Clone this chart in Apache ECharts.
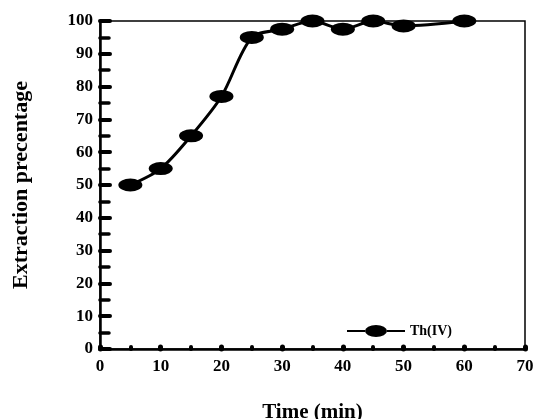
<!DOCTYPE html>
<html>
<head>
<meta charset="utf-8">
<script src="https://cdn.jsdelivr.net/npm/echarts@6/dist/echarts.min.js"></script>
<style>
  html, body { margin: 0; padding: 0; background: #fff; }
  #chart { width: 536px; height: 419px; }
</style>
</head>
<body>
<div id="chart"></div>
<script>
var times = [5, 10, 15, 20, 25, 30, 35, 40, 45, 50, 60];
var extraction = [50, 55, 65, 77, 95, 97.5, 100, 97.5, 100, 98.5, 100];
var seriesName = 'Th(IV)';

var chartDom = document.getElementById('chart');
var myChart = echarts.init(chartDom);
var font = 'Liberation Serif';
// legend icon: line with an elliptic marker in the middle
var legendIcon = 'path://M0,5 L18,5 L18,7 L0,7 Z M40,5 L58,5 L58,7 L40,7 Z ' +
  'M18,6 A11,6 0 1,0 40,6 A11,6 0 1,0 18,6 Z';
var option = {
  animation: false,
  grid: {
    left: 100, right: 11, top: 21, bottom: 70,
    outerBoundsMode: 'none',
    show: true, borderColor: '#000', borderWidth: 1.5
  },
  legend: {
    data: [{ name: seriesName, icon: legendIcon }],
    left: 342, top: 319,
    itemWidth: 58, itemHeight: 12, itemGap: 6,
    textStyle: { fontFamily: font, fontWeight: 'bold', fontSize: 14, color: '#000' }
  },
  xAxis: {
    type: 'value', min: 0, max: 70, interval: 10,
    name: 'Time (min)', nameLocation: 'middle', nameGap: 53,
    nameTextStyle: { fontFamily: font, fontWeight: 'bold', fontSize: 21, color: '#000' },
    axisLine: { lineStyle: { color: '#000', width: 2.5 } },
    axisTick: { inside: true, length: 2, lineStyle: { color: '#000', width: 5, cap: 'round' } },
    minorTick: { show: true, splitNumber: 2, length: 2, lineStyle: { color: '#000', width: 4, cap: 'round' } },
    axisLabel: { fontFamily: font, fontWeight: 'bold', fontSize: 17, color: '#000', margin: 9 },
    splitLine: { show: false }
  },
  yAxis: {
    type: 'value', min: 0, max: 100, interval: 10,
    name: 'Extraction precentage', nameLocation: 'middle', nameGap: 68,
    nameTextStyle: { fontFamily: font, fontWeight: 'bold', fontSize: 22, color: '#000' },
    axisLine: { lineStyle: { color: '#000', width: 2.5 } },
    axisTick: { inside: true, length: 10, lineStyle: { color: '#000', width: 4, cap: 'round' } },
    minorTick: { show: true, splitNumber: 2, length: 9, lineStyle: { color: '#000', width: 3.5, cap: 'round' } },
    axisLabel: { fontFamily: font, fontWeight: 'bold', fontSize: 17, color: '#000', margin: 7 },
    splitLine: { show: false }
  },
  series: [{
    name: seriesName,
    type: 'line',
    smooth: 0.3,
    data: times.map(function (t, i) { return [t, extraction[i]]; }),
    symbol: 'circle',
    symbolSize: [24, 13],
    itemStyle: { color: '#000' },
    lineStyle: { color: '#000', width: 3 }
  }]
};
myChart.setOption(option);
</script>
</body>
</html>
